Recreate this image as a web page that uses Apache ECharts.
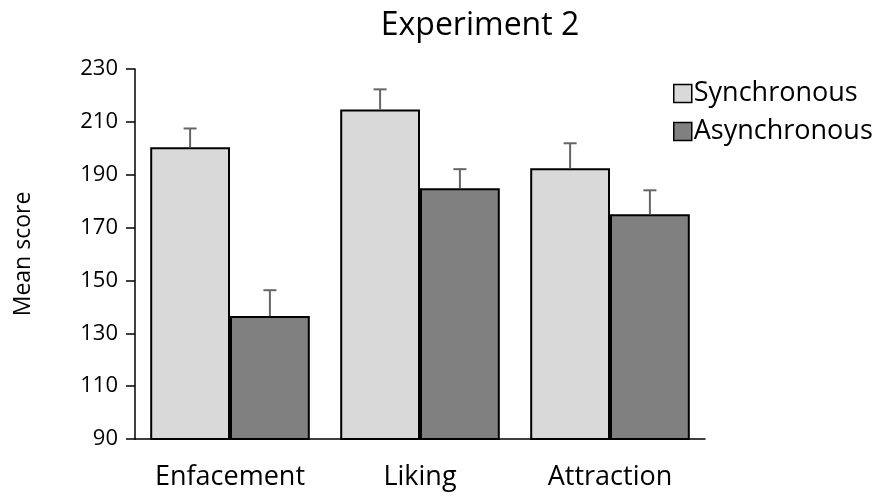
<!DOCTYPE html>
<html>
<head>
<meta charset="utf-8">
<script src="https://cdn.jsdelivr.net/npm/echarts@6/dist/echarts.min.js"></script>
<style>html,body{margin:0;padding:0;background:#fff}#c{width:883px;height:501px}</style>
</head>
<body>
<div id="c"></div>
<script>
var categories = ['Enfacement', 'Liking', 'Attraction'];
var syncValues = [200.4, 214.7, 192.4];
var asyncValues = [136.5, 184.9, 175.0];
var syncErrors = [7.1, 7.6, 9.5];
var asyncErrors = [9.8, 7.2, 9.1];
var yTicks = [90, 110, 130, 150, 170, 190, 210, 230];

var FONT = "'Open Sans', 'Noto Sans', sans-serif";
var GAP = 0.16;

function errorSeries(name, values, errors, side) {
  return {
    type: 'custom',
    name: name + ' error',
    z: 5,
    data: values.map(function (v, i) { return [i, v, v + errors[i]]; }),
    renderItem: function (params, api) {
      var i = api.value(0);
      var band = api.size([1, 0])[0];
      var bw = band * (1 - GAP) / 2;
      var base = api.coord([i, api.value(1)]);
      var top = api.coord([i, api.value(2)]);
      var x = base[0] + side * bw / 2;
      var cap = 6.5;
      var st = { stroke: '#666666', lineWidth: 2 };
      return {
        type: 'group',
        children: [
          { type: 'line', shape: { x1: x, y1: base[1], x2: x, y2: top[1] }, style: st },
          { type: 'line', shape: { x1: x - cap, y1: top[1], x2: x + cap, y2: top[1] }, style: st }
        ]
      };
    }
  };
}

var chart = echarts.init(document.getElementById('c'), null, { renderer: 'canvas' });
chart.setOption({
  animation: false,
  backgroundColor: '#ffffff',
  title: {
    text: 'Experiment 2',
    left: 475, top: 5, textAlign: 'center',
    textStyle: { fontFamily: FONT, fontSize: 32, fontWeight: 'normal', color: '#000' }
  },
  legend: {
    orient: 'vertical',
    left: 668, top: 75,
    itemGap: 11,
    itemWidth: 18, itemHeight: 18,
    icon: 'rect',
    data: ['Synchronous', 'Asynchronous'],
    textStyle: { fontFamily: FONT, fontSize: 27, color: '#000', padding: [0, 0, 0, -3] },
    itemStyle: { borderColor: '#000', borderWidth: 1.5 }
  },
  grid: { left: 135, right: 178, top: 69, bottom: 62, containLabel: false },
  xAxis: {
    type: 'category',
    data: categories,
    axisLine: { lineStyle: { color: '#000', width: 1.5 } },
    axisTick: { show: false },
    axisLabel: { interval: 0, hideOverlap: false, fontFamily: FONT, fontSize: 27, color: '#000', margin: 25 }
  },
  yAxis: {
    type: 'value',
    min: yTicks[0], max: yTicks[yTicks.length - 1], interval: 20,
    name: 'Mean score',
    nameLocation: 'middle',
    nameGap: 100,
    nameTextStyle: { fontFamily: FONT, fontSize: 23, color: '#000' },
    axisLine: { show: true, lineStyle: { color: '#000', width: 1.5 } },
    axisTick: { show: true, length: 9, lineStyle: { color: '#000', width: 1.5 } },
    splitLine: { show: false },
    axisLabel: { fontFamily: FONT, fontSize: 22, color: '#000', margin: 17 }
  },
  series: [
    {
      type: 'bar', name: 'Synchronous', data: syncValues,
      barGap: '0%', barCategoryGap: (GAP * 100) + '%',
      itemStyle: { color: '#d9d9d9', borderColor: '#000', borderWidth: 2 }
    },
    {
      type: 'bar', name: 'Asynchronous', data: asyncValues,
      barGap: '0%', barCategoryGap: (GAP * 100) + '%',
      itemStyle: { color: '#808080', borderColor: '#000', borderWidth: 2 }
    },
    errorSeries('Synchronous', syncValues, syncErrors, -1),
    errorSeries('Asynchronous', asyncValues, asyncErrors, 1)
  ]
});
</script>
</body>
</html>
